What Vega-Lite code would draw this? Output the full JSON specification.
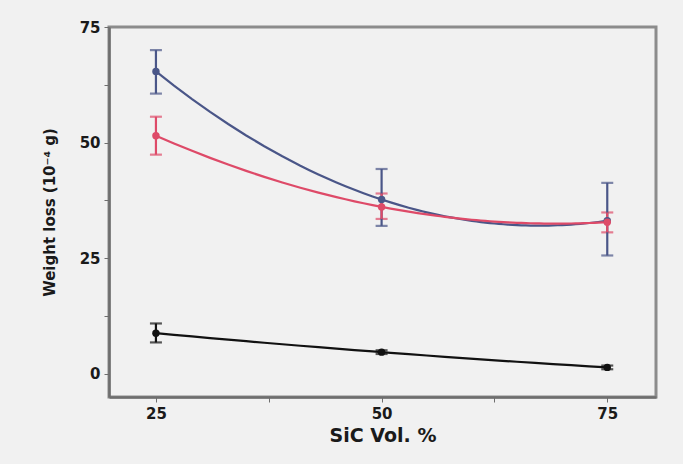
{
  "$schema": "https://vega.github.io/schema/vega-lite/v6.json",
  "autosize": "none",
  "width": 547,
  "height": 370,
  "padding": {"left": 109, "top": 27, "right": 27, "bottom": 67},
  "background": "#f1f1f1",
  "config": {
    "view": {"stroke": "#8c8c8c", "strokeWidth": 3, "fill": "#f1f1f1"},
    "axis": {
      "labelFont": "DejaVu Sans",
      "titleFont": "DejaVu Sans",
      "labelFontWeight": "bold",
      "titleFontWeight": "bold",
      "labelColor": "#1a1a1a",
      "titleColor": "#1a1a1a",
      "domainColor": "#6e6e6e",
      "domainWidth": 2.5,
      "tickColor": "#6e6e6e",
      "grid": false
    }
  },
  "data": {
    "values": [
      {"sic": 25, "loss": 65.4, "lo": 60.6, "hi": 70.0, "series": "A"},
      {"sic": 50, "loss": 37.7, "lo": 32.0, "hi": 44.3, "series": "A"},
      {"sic": 75, "loss": 33.1, "lo": 25.6, "hi": 41.3, "series": "A"},
      {"sic": 25, "loss": 51.5, "lo": 47.4, "hi": 55.6, "series": "B"},
      {"sic": 50, "loss": 36.1, "lo": 33.5, "hi": 39.0, "series": "B"},
      {"sic": 75, "loss": 32.8, "lo": 30.6, "hi": 34.9, "series": "B"},
      {"sic": 25, "loss": 8.8, "lo": 6.8, "hi": 10.9, "series": "C"},
      {"sic": 50, "loss": 4.7, "lo": 4.3, "hi": 5.1, "series": "C"},
      {"sic": 75, "loss": 1.4, "lo": 1.0, "hi": 1.8, "series": "C"}
    ]
  },
  "layer": [
    {
      "transform": [{"regression": "loss", "on": "sic", "method": "poly", "order": 2, "groupby": ["series"]}],
      "mark": {"type": "line", "strokeWidth": 2.2},
      "encoding": {
        "x": {"field": "sic", "type": "quantitative", "scale": {"domain": [19.8, 80.4], "nice": false, "zero": false},
          "axis": {"values": [25, 37.5, 50, 62.5, 75], "labelExpr": "datum.value % 25 == 0 ? datum.label : ''", "title": "SiC Vol. %", "labelFontSize": 15, "titleFontSize": 19, "tickSize": 5, "labelPadding": 4, "titlePadding": 5}},
        "y": {"field": "loss", "type": "quantitative", "scale": {"domain": [-5, 75], "nice": false, "zero": false},
          "axis": {"values": [0, 12.5, 25, 37.5, 50, 62.5, 75], "labelExpr": "datum.value % 25 == 0 ? datum.label : ''", "title": "Weight loss (10⁻⁴ g)", "labelFontSize": 15, "titleFontSize": 15, "tickSize": 5, "labelPadding": 4, "titlePadding": 22}},
        "color": {"field": "series", "type": "nominal", "scale": {"domain": ["A", "B", "C"], "range": ["#4a5688", "#de4a68", "#111111"]}, "legend": null},
        "detail": {"field": "series"}
      }
    },
    {
      "mark": {"type": "errorbar", "ticks": {"size": 12, "thickness": 2.2}, "rule": {"strokeWidth": 2.2}},
      "encoding": {
        "x": {"field": "sic", "type": "quantitative"},
        "y": {"field": "lo", "type": "quantitative", "title": "Weight loss (10⁻⁴ g)"},
        "y2": {"field": "hi"},
        "color": {"field": "series", "type": "nominal", "legend": null}
      }
    },
    {
      "mark": {"type": "point", "filled": true, "opacity": 1, "size": 55},
      "encoding": {
        "x": {"field": "sic", "type": "quantitative"},
        "y": {"field": "loss", "type": "quantitative", "title": "Weight loss (10⁻⁴ g)"},
        "color": {"field": "series", "type": "nominal", "legend": null}
      }
    }
  ]
}
